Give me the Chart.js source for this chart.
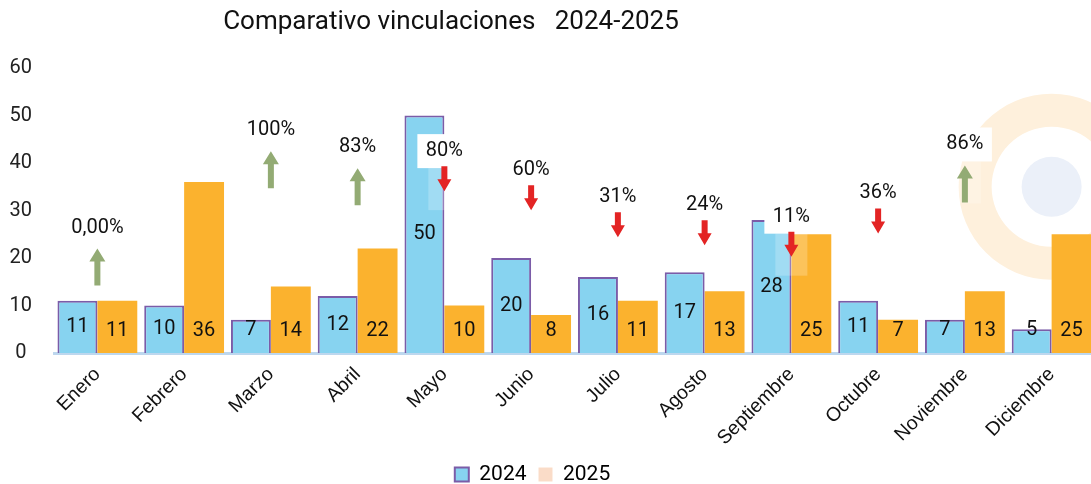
<!DOCTYPE html>
<html>
<head>
<meta charset="utf-8">
<script src="https://cdn.jsdelivr.net/npm/chart.js@4/dist/chart.umd.min.js"></script>
<style>
  html, body { margin: 0; padding: 0; background: #fff; overflow: hidden; }
  #wrap { width: 1100px; height: 484px; }
</style>
</head>
<body>
<div id="wrap"><canvas id="vinculacionesChart" width="1100" height="484"></canvas></div>
<script>
const meses = ["Enero", "Febrero", "Marzo", "Abril", "Mayo", "Junio", "Julio",
  "Agosto", "Septiembre", "Octubre", "Noviembre", "Diciembre"];
const valores2024 = [11, 10, 7, 12, 50, 20, 16, 17, 28, 11, 7, 5];
const valores2025 = [11, 36, 14, 22, 10, 8, 11, 13, 25, 7, 13, 25];
const variacion = ["0,00%", "", "100%", "83%", "80%", "60%", "31%", "24%", "11%", "36%", "86%", ""];
const tendencia = ["up", "", "up", "up", "down", "down", "down", "down", "down", "down", "up", ""];
const yTicks = [0, 10, 20, 30, 40, 50, 60];

// where each % label sits, in axis units
const nivelEtiqueta = [26.4, 0, 46.9, 43.3, 42.5, 38.5, 32.8, 31.1, 28.7, 33.6, 43.9, 0];

const BLUE = "#87d3f0";
const PURPLE = "#7b5ca8";
const ORANGE = "#fbb22e";
const PEACH = "#fadcc8";

// decorative ring behind the bars + title
const fondoPlugin = {
  id: "fondo",
  beforeDatasetsDraw(chart) {
    const ctx = chart.ctx;
    const x = chart.scales.x.getPixelForValue(11);
    const y = chart.scales.y.getPixelForValue(35);
    ctx.save();
    ctx.fillStyle = "#fef0dc";
    ctx.beginPath();
    ctx.arc(x, y, 93, 0, Math.PI * 2);
    ctx.arc(x, y, 60, 0, Math.PI * 2, true);
    ctx.fill();
    ctx.fillStyle = "#ebf0f9";
    ctx.beginPath();
    ctx.arc(x, y, 30, 0, Math.PI * 2);
    ctx.fill();
    ctx.restore();
  },
  afterDraw(chart) {
    const ctx = chart.ctx;
    ctx.save();
    ctx.font = "26px Roboto";
    ctx.fillStyle = "#111";
    ctx.textAlign = "center";
    ctx.textBaseline = "middle";
    ctx.fillText("Comparativo vinculaciones   2024-2025", 451, 22);
    ctx.restore();
  }
};

// values written inside the bars
const valoresPlugin = {
  id: "valores",
  afterDatasetsDraw(chart) {
    const ctx = chart.ctx;
    ctx.save();
    ctx.font = "20px Roboto";
    ctx.fillStyle = "#111";
    ctx.textAlign = "center";
    ctx.textBaseline = "middle";
    chart.data.datasets.forEach((ds, di) => {
      chart.getDatasetMeta(di).data.forEach((bar, i) => {
        const mid = (bar.y + bar.base) / 2;
        const y = di === 0 ? Math.min(mid, bar.base - 23) : bar.base - 22;
        ctx.fillText(String(ds.data[i]), bar.x, y);
      });
    });
    ctx.restore();
  }
};

// % change labels with arrows
const flechasPlugin = {
  id: "flechas",
  afterDatasetsDraw(chart) {
    const ctx = chart.ctx;
    const xs = chart.scales.x, ys = chart.scales.y;
    ctx.save();
    variacion.forEach((txt, i) => {
      if (!txt) return;
      const cx = xs.getPixelForValue(i);
      const cy = ys.getPixelForValue(nivelEtiqueta[i]);
      // white label box + faded patch under it
      ctx.fillStyle = "rgba(255,255,255,0.22)";
      ctx.fillRect(cx - 16, cy + 17, 32, 42);
      ctx.fillStyle = "#fff";
      ctx.fillRect(cx - 27, cy - 17, 54, 34);
      ctx.fillStyle = "#111";
      ctx.font = "20px Roboto";
      ctx.textAlign = "center";
      ctx.textBaseline = "middle";
      ctx.fillText(txt, cx, cy);

      ctx.beginPath();
      if (tendencia[i] === "up") {
        const top = cy + 21, bot = cy + 58;
        ctx.fillStyle = "#93ab74";
        ctx.moveTo(cx, top);
        ctx.lineTo(cx + 8, top + 13);
        ctx.lineTo(cx + 3, top + 13);
        ctx.lineTo(cx + 3, bot);
        ctx.lineTo(cx - 3, bot);
        ctx.lineTo(cx - 3, top + 13);
        ctx.lineTo(cx - 8, top + 13);
      } else {
        const top = cy + 15, bot = cy + 40;
        ctx.fillStyle = "#e32424";
        ctx.moveTo(cx - 3, top);
        ctx.lineTo(cx + 3, top);
        ctx.lineTo(cx + 3, bot - 12);
        ctx.lineTo(cx + 7, bot - 12);
        ctx.lineTo(cx, bot);
        ctx.lineTo(cx - 7, bot - 12);
        ctx.lineTo(cx - 3, bot - 12);
      }
      ctx.closePath();
      ctx.fill();
    });
    ctx.restore();
  }
};

const ctx = document.getElementById("vinculacionesChart").getContext("2d");
new Chart(ctx, {
  type: "bar",
  data: {
    labels: meses,
    datasets: [
      {
        label: "2024",
        data: valores2024,
        backgroundColor: BLUE,
        borderColor: PURPLE,
        borderWidth: 2,
      },
      {
        label: "2025",
        data: valores2025,
        backgroundColor: ORANGE,
        borderWidth: 0,
      },
    ],
  },
  options: {
    responsive: false,
    animation: false,
    layout: { padding: { top: 68, right: 5, left: -30, bottom: -11 } },
    datasets: { bar: { categoryPercentage: 0.92, barPercentage: 1 } },
    scales: {
      x: {
        grid: { display: false },
        border: { display: true, color: "#bdd7ee", width: 3 },
        ticks: {
          color: "#111",
          font: { family: "Liberation Sans", size: 19.5 },
          minRotation: 45,
          maxRotation: 45,
          padding: 2,
        },
        afterFit(scale) { scale.height = 99; },
      },
      y: {
        min: 0,
        max: 60,
        afterBuildTicks(scale) { scale.ticks = yTicks.map((v) => ({ value: v })); },
        grid: { display: false },
        border: { display: false },
        ticks: {
          color: "#222",
          font: { family: "Roboto", size: 20 },
          crossAlign: "center",
          padding: 14,
        },
        afterFit(scale) { scale.width = 84; },
      },
    },
    plugins: {
      title: { display: false },
      tooltip: { enabled: false },
      legend: {
        position: "bottom",
        labels: {
          color: "#111",
          font: { family: "Roboto", size: 21 },
          boxWidth: 14,
          boxHeight: 14,
          padding: 12,
          generateLabels() {
            return [
              { text: "2024", fillStyle: BLUE, strokeStyle: PURPLE, lineWidth: 2, datasetIndex: 0 },
              { text: "2025", fillStyle: PEACH, strokeStyle: PEACH, lineWidth: 0, datasetIndex: 1 },
            ];
          },
        },
      },
    },
  },
  plugins: [fondoPlugin, valoresPlugin, flechasPlugin],
});
</script>
</body>
</html>
